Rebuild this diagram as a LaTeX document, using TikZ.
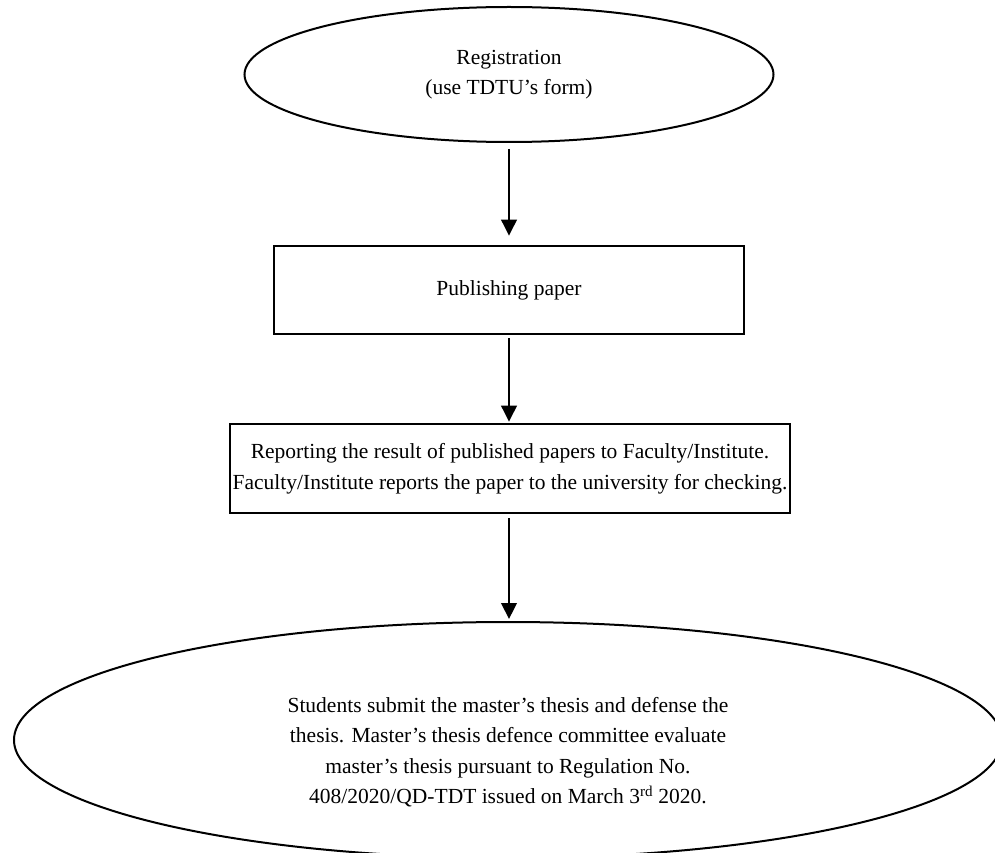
\documentclass[tikz,border=0pt]{standalone}
\usepackage{fontspec}
\setmainfont{Liberation Serif}
\usetikzlibrary{shapes.geometric,arrows.meta}
\begin{document}
\begin{tikzpicture}[x=1pt,y=-1pt,
  every node/.style={font=\fontsize{21.5}{30.5}\selectfont, align=center, inner sep=0pt},
  ell/.style={draw, ellipse, line width=2pt},
  box/.style={draw, rectangle, line width=2.6pt},
  arr/.style={line width=2.2pt, -{Triangle[width=15.5pt,length=16pt]}}]
\useasboundingbox (0,0) rectangle (995,853);
\clip (0,0) rectangle (995,853);
\node[ell, minimum width=529pt, minimum height=135pt] (e1) at (509,74.5) {Registration\\(use TDTU’s form)};
\node[box, minimum width=470pt, minimum height=88pt] (b1) at (509,290) {Publishing paper};
\node[box, minimum width=560pt, minimum height=89pt] (b2) at (510,468.5) {Reporting the result of published papers to Faculty/Institute.\\Faculty/Institute reports the paper to the university for checking.};
\node[ell, minimum width=988pt, minimum height=236pt] (e2) at (508,740) {};
\node (t2) at (508,752) {Students submit the master’s thesis and defense the\\thesis. Master’s thesis defence committee evaluate\\master’s thesis pursuant to Regulation No.\\408/2020/QD-TDT issued on March 3\textsuperscript{rd} 2020.};
\draw[arr, shorten <=6pt, shorten >=9pt] (e1.south) -- (e1.south |- b1.north);
\draw[arr, shorten <=3pt, shorten >=1pt] (b1.south) -- (b1.south |- b2.north);
\draw[arr, shorten <=4pt, shorten >=2pt] (b2.south -| b1.south) -- (b1.south |- e2.north);
\end{tikzpicture}
\end{document}
